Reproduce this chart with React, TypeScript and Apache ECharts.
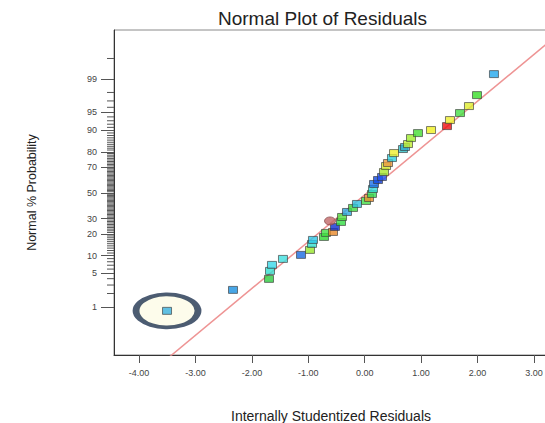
import React, { useEffect, useRef } from "react";
import * as echarts from "echarts";

// Internally studentized residuals (x) and their normal scores (z)
const residuals = [
  -3.505, -2.335, -1.697, -1.679, -1.644, -1.449, -1.129, -0.97, -0.934, -0.917,
  -0.722, -0.686, -0.562, -0.527, -0.615, -0.42, -0.402, -0.314, -0.207, -0.137,
  0.023, 0.076, 0.129, 0.147, 0.165, 0.236, 0.307, 0.342, 0.378, 0.413,
  0.484, 0.52, 0.679, 0.715, 0.768, 0.821, 0.945, 1.176, 1.459, 1.512,
  1.69, 1.849, 1.991, 2.292,
];
const normalScores = [
  -2.408, -1.98, -1.755, -1.592, -1.469, -1.347, -1.265, -1.163, -1.041, -0.959,
  -0.898, -0.816, -0.796, -0.694, -0.571, -0.592, -0.49, -0.388, -0.306, -0.224,
  -0.163, -0.102, -0.02, 0.082, 0.184, 0.265, 0.327, 0.429, 0.551, 0.612,
  0.714, 0.816, 0.898, 0.939, 1.0, 1.122, 1.224, 1.286, 1.367, 1.49,
  1.633, 1.776, 2.0, 2.429,
];
const pointColors = [
  "#3ab0e0", "#1a90e0", "#2ecc40", "#33e0d0", "#38d8e8", "#40e0e0", "#1a6ae0", "#99e62a", "#35e0d0", "#2ec8e8",
  "#30d830", "#44dd44", "#e88a2a", "#1030d0", "#c06868", "#33dd44", "#55e040", "#30a8e0", "#44dd44", "#30c0e0",
  "#44dd44", "#e89030", "#33dd55", "#35dcdc", "#1a70e8", "#1048e0", "#2050f0", "#aae630", "#d8ee30", "#e89a40",
  "#30d0e0", "#eeee30", "#30c0c8", "#33aacc", "#c0ee30", "#a0ee30", "#44dd33", "#f0f020", "#ee1010", "#eeee30",
  "#44dd44", "#e0ee30", "#38dd28", "#22a8ee",
];
const ellipsePointIndex = 14; // the one point drawn as an ellipse
const highlightedIndex = 0; // the circled outlier

// Reference (normal) line end points
const fitLineX = [-3.6, 3.4];
const fitLineZ = [-3.481, 3.212];

// Axes
const X_MIN = -4.445;
const X_MAX = 3.25;
const Z_MIN = -3.31;
const Z_MAX = 3.33;
const xTickValues = [-4, -3, -2, -1, 0, 1, 2, 3];
const yLabelPercents = [1, 5, 10, 20, 30, 50, 70, 80, 90, 95, 99];
const yMinorPercents = [...Array.from({ length: 99 }, (_, i) => i + 1), 99.7];

// inverse standard normal CDF (Acklam)
function probit(p: number): number {
  const a = [-3.969683028665376e1, 2.209460984245205e2, -2.759285104469687e2, 1.38357751867269e2, -3.066479806614716e1, 2.506628277459239];
  const b = [-5.447609879822406e1, 1.615858368580409e2, -1.556989798598866e2, 6.680131188771972e1, -1.328068155288572e1];
  const c = [-7.784894002430293e-3, -3.223964580411365e-1, -2.400758277161838, -2.549732539343734, 4.374664141464968, 2.938163982698783];
  const d = [7.784695709041462e-3, 3.224671290700398e-1, 2.445134137142996, 3.754408661907416];
  const pl = 0.02425;
  if (p < pl) {
    const q = Math.sqrt(-2 * Math.log(p));
    return (((((c[0] * q + c[1]) * q + c[2]) * q + c[3]) * q + c[4]) * q + c[5]) / ((((d[0] * q + d[1]) * q + d[2]) * q + d[3]) * q + 1);
  }
  if (p > 1 - pl) {
    const q = Math.sqrt(-2 * Math.log(1 - p));
    return -(((((c[0] * q + c[1]) * q + c[2]) * q + c[3]) * q + c[4]) * q + c[5]) / ((((d[0] * q + d[1]) * q + d[2]) * q + d[3]) * q + 1);
  }
  const q = p - 0.5;
  const r = q * q;
  return ((((((a[0] * r + a[1]) * r + a[2]) * r + a[3]) * r + a[4]) * r + a[5]) * q) / (((((b[0] * r + b[1]) * r + b[2]) * r + b[3]) * r + b[4]) * r + 1);
}

const FONT = "'Liberation Sans', Arial, sans-serif";

export default function App() {
  const ref = useRef<HTMLDivElement>(null);
  useEffect(() => {
    document.body.style.margin = "0";
    if (!ref.current) return;
    const chart = echarts.init(ref.current, undefined, { renderer: "svg" });
    const majorZ = yLabelPercents.map((p) => probit(p / 100));
    const minorZ = yMinorPercents.filter((p) => !yLabelPercents.includes(p)).map((p) => probit(p / 100));

    const rectPoints = residuals
      .map((x, i) => ({ value: [x, normalScores[i]], itemStyle: { color: pointColors[i] }, idx: i }))
      .filter((d) => d.idx !== ellipsePointIndex)
      .map(({ value, itemStyle }) => ({ value, itemStyle }));

    chart.setOption({
      animation: false,
      backgroundColor: "#ffffff",
      title: {
        text: "Normal Plot of Residuals",
        left: 213,
        top: 4,
        textStyle: { fontFamily: FONT, fontSize: 19, fontWeight: "normal", color: "#222" },
      },
      grid: {
        left: 114,
        top: 30,
        right: -3,
        bottom: 68,
        show: true,
        borderColor: "#8a8a8a",
        borderWidth: 1,
        containLabel: false,
        outerBoundsMode: "none",
      },
      xAxis: {
        type: "value",
        min: X_MIN,
        max: X_MAX,
        name: "Internally Studentized Residuals",
        nameLocation: "middle",
        nameGap: 54,
        nameTextStyle: { fontFamily: FONT, fontSize: 14, color: "#222" },
        axisLine: { show: true, onZero: false, lineStyle: { color: "#333", width: 1 } },
        axisTick: { show: true, customValues: xTickValues, length: 8, inside: false, lineStyle: { color: "#555" } },
        axisLabel: {
          customValues: xTickValues,
          margin: 13,
          fontFamily: FONT,
          fontSize: 9,
          color: "#444",
          formatter: (v: number) => v.toFixed(2),
        },
        splitLine: { show: false },
      },
      yAxis: {
        type: "value",
        min: Z_MIN,
        max: Z_MAX,
        position: "left",
        name: "Normal % Probability",
        nameLocation: "middle",
        nameGap: 76,
        nameTextStyle: { fontFamily: FONT, fontSize: 12.5, color: "#222" },
        axisLine: { show: true, onZero: false, lineStyle: { color: "#333", width: 1 } },
        axisTick: { show: true, customValues: majorZ, length: 13, lineStyle: { color: "#555" } },
        axisLabel: {
          customValues: majorZ,
          margin: 17,
          fontFamily: FONT,
          fontSize: 9,
          color: "#444",
          formatter: (v: number) => {
            const i = majorZ.findIndex((z) => Math.abs(z - v) < 1e-3);
            return i >= 0 ? String(yLabelPercents[i]) : "";
          },
        },
        splitLine: { show: false },
      },
      series: [
        {
          // minor probability ticks on the left axis
          type: "custom",
          silent: true,
          clip: false,
          z: 5,
          data: minorZ.map((z) => [X_MIN, z]),
          renderItem: (_params: any, api: any) => {
            const p = api.coord([api.value(0), api.value(1)]);
            return {
              type: "line",
              shape: { x1: p[0] - 7, y1: p[1], x2: p[0], y2: p[1] },
              style: { stroke: "#555", lineWidth: 1 },
            };
          },
        },
        {
          type: "scatter",
          silent: true,
          z: 1,
          symbol: "circle",
          symbolSize: [62, 33],
          itemStyle: { color: "#fdfbe6", borderColor: "#1f3350", borderWidth: 5 },
          data: [[residuals[highlightedIndex], normalScores[highlightedIndex]]],
        },
        {
          type: "line",
          z: 2,
          silent: true,
          showSymbol: false,
          lineStyle: { color: "#ee9494", width: 1.5 },
          data: fitLineX.map((x, i) => [x, fitLineZ[i]]),
        },
        {
          type: "scatter",
          z: 3,
          symbol: "rect",
          symbolSize: [9, 7],
          itemStyle: { borderColor: "#3a3a3a", borderWidth: 0.8 },
          data: rectPoints,
        },
        {
          type: "scatter",
          z: 4,
          symbol: "circle",
          symbolSize: [11, 8],
          itemStyle: { color: pointColors[ellipsePointIndex], borderColor: "#7a3a3a", borderWidth: 0.8 },
          data: [[residuals[ellipsePointIndex], normalScores[ellipsePointIndex]]],
        },
      ],
    });
    return () => chart.dispose();
  }, []);
  return (
    <div style={{ position: "absolute", left: 0, top: 0, width: 545, height: 423, overflow: "hidden" }}>
      <div ref={ref} style={{ width: 545, height: 423 }} />
    </div>
  );
}
